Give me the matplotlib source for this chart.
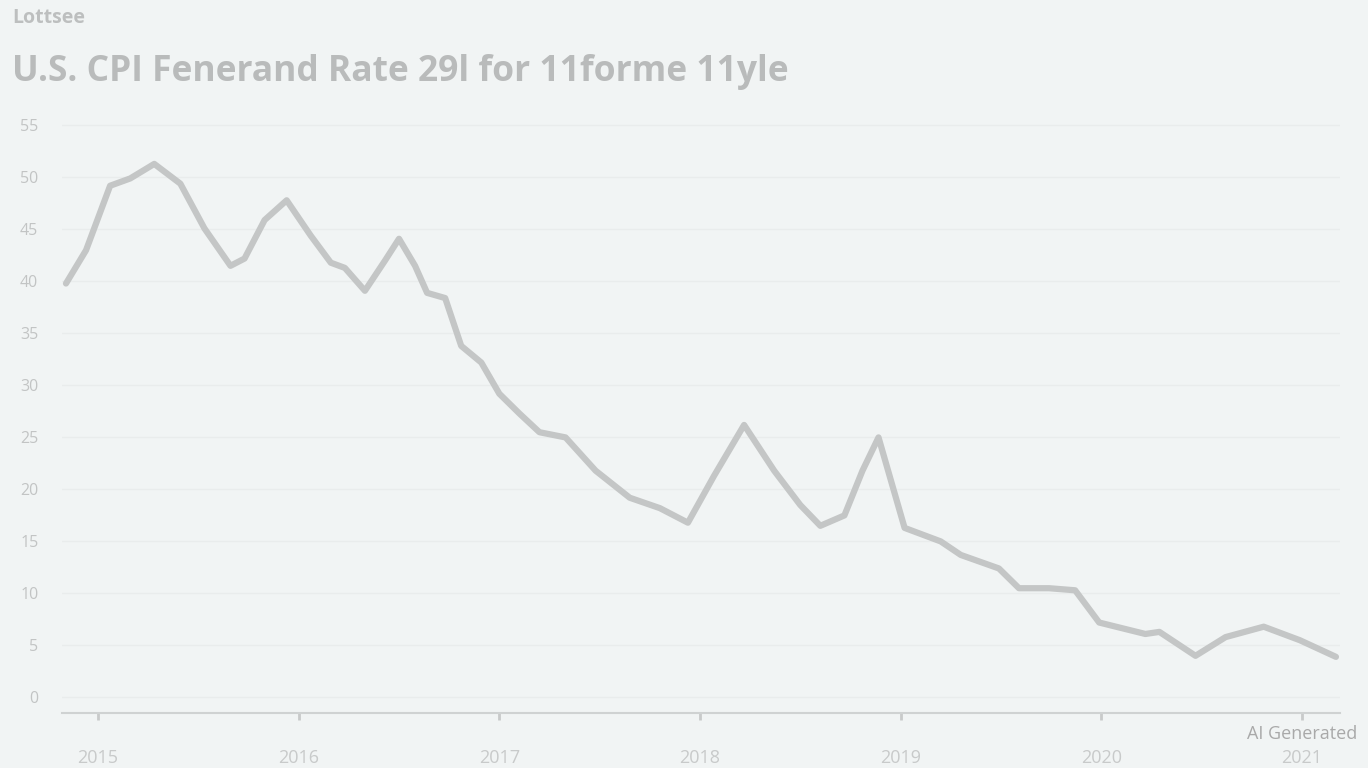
import matplotlib
matplotlib.use("Agg")
import matplotlib.pyplot as plt

# ---- data ----
period = [2014.84, 2014.94, 2015.06, 2015.16, 2015.28, 2015.41, 2015.53, 2015.66, 2015.73,
          2015.83, 2015.94, 2016.06, 2016.16, 2016.23, 2016.33, 2016.43, 2016.50, 2016.58,
          2016.64, 2016.73, 2016.81, 2016.91, 2017.00, 2017.10, 2017.20, 2017.33, 2017.48,
          2017.65, 2017.80, 2017.94, 2018.07, 2018.22, 2018.37, 2018.50, 2018.60, 2018.72,
          2018.81, 2018.89, 2019.02, 2019.20, 2019.30, 2019.49, 2019.59, 2019.74, 2019.87,
          2019.99, 2020.22, 2020.29, 2020.47, 2020.62, 2020.81, 2020.99, 2021.17]
rate = [39.8, 43.0, 49.2, 49.9, 51.3, 49.4, 45.1, 41.5, 42.2,
        45.9, 47.8, 44.4, 41.8, 41.3, 39.1, 42.0, 44.1, 41.5,
        38.9, 38.4, 33.8, 32.2, 29.2, 27.3, 25.5, 25.0, 21.8,
        19.2, 18.2, 16.8, 21.3, 26.2, 21.8, 18.5, 16.5, 17.5,
        21.8, 25.0, 16.3, 15.0, 13.7, 12.4, 10.5, 10.5, 10.3,
        7.2, 6.1, 6.3, 4.0, 5.8, 6.8, 5.5, 3.9]
year_ticks = [2015, 2016, 2017, 2018, 2019, 2020, 2021]
year_labels = ["2015", "2016", "2017", "2018", "2019", "2020", "2021"]
y_ticks = [0, 5, 10, 15, 20, 25, 30, 35, 40, 45, 50, 55]
y_labels = ["0", "5", "10", "15", "20", "25", "30", "35", "40", "45", "50", "55"]
title = "U.S. CPI Fenerand Rate 29l for 11forme 11yle"
subtitle = "Lottsee"

BG = "#f1f4f4"
plt.rcParams['font.family'] = ['Open Sans', 'DejaVu Sans']

fig = plt.figure(figsize=(13.68, 7.68), dpi=100, facecolor=BG)
ax = fig.add_axes([0.0453, 0.0716, 0.9342, 0.7854])
ax.set_facecolor(BG)

ax.plot(period, rate, color="#c4c6c6", linewidth=4.5, solid_joinstyle="round",
        solid_capstyle="round")

ax.set_xlim(2014.82, 2021.19)
ax.set_ylim(-1.5, 56.5)

ax.set_yticks(y_ticks)
ax.set_yticklabels(y_labels)
ax.set_xticks(year_ticks)
ax.set_xticklabels(year_labels)

for s in ["top", "right", "left"]:
    ax.spines[s].set_visible(False)
ax.spines["bottom"].set_color("#cfd2d2")
ax.spines["bottom"].set_linewidth(1.5)

ax.tick_params(axis="y", length=0, pad=17, labelsize=11.5, labelcolor="#c2c4c4")
ax.tick_params(axis="x", length=5, width=2, color="#c8caca", pad=21, labelsize=13,
               labelcolor="#c8caca")
ax.grid(axis="y", color="#e9ecec", linewidth=1.0)
ax.set_axisbelow(True)

fig.text(0.009, 0.906, title, fontsize=25.5, fontweight="bold", color="#b9bbbb",
         ha="left", va="center")
fig.text(0.009, 0.976, subtitle, fontsize=14, fontweight="bold", color="#bdbfbf",
         ha="left", va="center")
fig.text(0.992, 0.044, "AI Generated", fontsize=13, color="#a9a9a9",
         ha="right", va="center")

fig.savefig("out.png", dpi=100, facecolor=BG)
